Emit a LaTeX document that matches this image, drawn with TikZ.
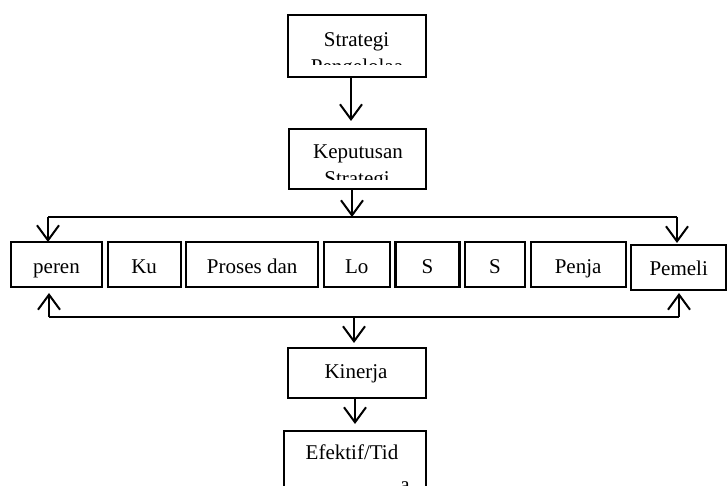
\documentclass[tikz,border=0pt]{standalone}
\usepackage{fontspec}
\setmainfont{Liberation Serif}
\usetikzlibrary{positioning,arrows.meta}

\begin{document}
\begin{tikzpicture}[
    x=1pt, y=-1pt,
    font=\fontsize{21}{27}\selectfont,
    node distance=5.6pt,
    box/.style={draw, line width=2.2pt, outer sep=0pt, inner sep=0pt},
    cell/.style={box, minimum height=45pt, text height=20.5pt, text depth=3.5pt},
    lbl/.style={inner sep=0pt, anchor=base},
    arrow/.style={-{Straight Barb[length=15pt,width=22pt]}, line width=2pt},
    bar/.style={line width=1.3pt}
]
\useasboundingbox (0,0) rectangle (728,486);
\clip (0,0) rectangle (728,486);

\node[box, minimum width=138pt, minimum height=62pt] (strategi) at (357,46) {};
\node[box, minimum width=137pt, minimum height=60pt] (keputusan) at (357.5,159) {};
\node[box, minimum width=138pt, minimum height=50pt] (kinerja) at (357,373) {};
\node[box, minimum width=142pt, minimum height=89pt] (efektif) at (355,475.5) {};

\node[lbl] (strategi-a) at (356.5,47) {Strategi};
\begin{scope}
\clip (strategi.north west) rectangle ([yshift=12pt]strategi.south east);
\node[lbl] (strategi-b) at (357,74) {Pengelolaa};
\end{scope}
\node[lbl] (keputusan-a) at (358,159) {Keputusan};
\begin{scope}
\clip (keputusan.north west) rectangle ([yshift=9pt]keputusan.south east);
\node[lbl] (keputusan-b) at (357,186) {Strategi};
\end{scope}
\node[lbl] (kinerja-a) at (356,378) {Kinerja};
\node[lbl] (efektif-a) at (352,459) {Efektif/Tid};
\node[lbl] (efektif-b) at (405,491) {a};

\node[cell, minimum width=91pt] (peren) at (56.5,264.5) {peren};
\node[cell, minimum width=73pt, right=of peren] (ku) {Ku};
\node[cell, minimum width=132pt, right=of ku] (proses) {Proses dan};
\node[cell, minimum width=66pt, right=of proses] (lo) {Lo};
\node[cell, minimum width=64pt, right=of lo] (s1) {S};
\node[cell, minimum width=60pt, right=of s1] (s2) {S};
\node[cell, minimum width=95pt, right=of s2] (penja) {Penja};
\node[cell, minimum width=95pt, right=of penja, yshift=-3pt] (pemeli) {Pemeli};

\coordinate (topL) at (48,217);
\coordinate (topM) at (352,217);
\coordinate (topR) at (677,217);
\coordinate (botL) at (49,317);
\coordinate (botM) at (354,317);
\coordinate (botR) at (679,317);

\draw[arrow, shorten >=8pt] ([xshift=-6pt]strategi.south) -- ([xshift=-6pt]strategi.south |- keputusan.north);
\draw[arrow] ([xshift=-5.5pt]keputusan.south) -- (topM);
\draw[bar] (topL) -- (topR);
\draw[arrow] (topL) -- (topL |- peren.north);
\draw[arrow, shorten >=2pt] (topR) -- (topR |- pemeli.north);
\draw[bar] (botL) -- (botR);
\draw[arrow, shorten >=6pt] (botL) -- (botL |- peren.south);
\draw[arrow, shorten >=3pt] (botR) -- (botR |- pemeli.south);
\draw[arrow, shorten >=5pt] (botM) -- (botM |- kinerja.north);
\draw[arrow, shorten >=7pt] ([xshift=-2pt]kinerja.south) -- ([xshift=-2pt]kinerja.south |- efektif.north);
\end{tikzpicture}
\end{document}
